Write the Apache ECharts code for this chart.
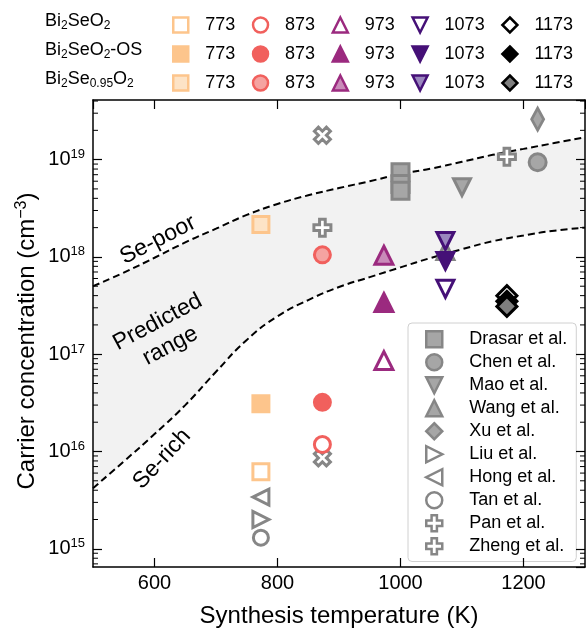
<!DOCTYPE html>
<html>
<head>
<meta charset="utf-8">
<script src="https://cdn.jsdelivr.net/npm/echarts@6/dist/echarts.min.js"></script>
<style>
html, body { margin: 0; padding: 0; background: #fff; }
#chart { width: 586px; height: 633px; }
</style>
</head>
<body>
<div id="chart"></div>
<script>
// this work: synthesis temperature (K) and carrier concentration (cm^-3)
const temps = [773, 873, 973, 1073, 1173];
const tempLabels = ['773', '873', '973', '1073', '1173'];
const nPristine = [6.2e15, 1.18e16, 8.6e16, 4.7e17, 4.0e17];
const nOS = [3.1e16, 3.2e16, 3.4e17, 9.1e17, 3.5e17];
const nSeDef = [2.15e18, 1.05e18, 1.04e18, 1.46e18, 3.1e17];

// predicted range boundaries
const boundT = [500, 550, 600, 650, 700, 750, 800, 850, 900, 950, 1000, 1050, 1100, 1150, 1200, 1250, 1300];
const sePoor = [5.0e17, 6.9e17, 9.8e17, 1.41e18, 1.95e18, 2.7e18, 3.5e18, 4.3e18, 5.1e18,
    6.0e18, 7.1e18, 8.1e18, 9.5e18, 1.12e19, 1.29e19, 1.48e19, 1.7e19];
const seRich = [4.2e15, 7.9e15, 1.51e16, 3.0e16, 6.6e16, 1.4e17, 2.45e17, 3.6e17, 4.9e17,
    6.2e17, 7.8e17, 9.8e17, 1.2e18, 1.45e18, 1.66e18, 1.86e18, 2.0e18];

// literature data
const litNames = ['Drasar et al.', 'Chen et al.', 'Mao et al.', 'Wang et al.', 'Xu et al.',
    'Liu et al.', 'Hong et al.', 'Tan et al.', 'Pan et al.', 'Zheng et al.'];
const litT = [[1000, 1000, 1000], [1223], [1100], [1073], [1223], [773], [773], [773], [873, 873], [873, 1173]];
const litN = [[7.4e18, 5.6e18, 4.8e18], [9.4e18], [5.2e18], [1.15e18], [2.6e19],
    [2.0e15], [3.4e15], [1.3e15], [1.78e19, 8.6e15], [2.0e18, 1.07e19]];

// axis ranges and minor tick mantissas
const xMin = 500, xMax = 1300;
const yMin = 6.5e14, yMax = 4.1e19;
const decades = [14, 15, 16, 17, 18, 19];
const minorMant = [2, 3, 4, 5, 6, 7, 8, 9];

const FONT = '"Liberation Sans", Arial, sans-serif';

const tempColors = ['#FDC58C', '#F1605D', '#9B2A7F', '#451077', '#000000'];
const tempLight = ['#FDE3C6', '#F5A3A1', '#C98BB9', '#9A87BE', '#7F7F7F'];

const SYM = {
    down: 'path://M0,0L2,0L1,2Z',
    left: 'path://M2,0L2,2L0,1Z',
    right: 'path://M0,0L0,2L2,1Z',
    plus: 'path://M1,0H2V1H3V2H2V3H1V2H0V1H1Z'
};
const tempSymbols = ['rect', 'circle', 'triangle', SYM.down, 'diamond'];
const tempSizes = [16, 16, 18, 17, 20];

const groups = [
    { key: 'Bi2SeO2', label: 'Bi{s|2}SeO{s|2}', values: nPristine, fill: i => '#ffffff', y: 25 },
    { key: 'Bi2SeO2-OS', label: 'Bi{s|2}SeO{s|2}-OS', values: nOS, fill: i => tempColors[i], y: 54 },
    { key: 'Bi2Se0.95O2', label: 'Bi{s|2}Se{s|0.95}O{s|2}', values: nSeDef, fill: i => tempLight[i], y: 83 }
];

const litStyle = [
    { symbol: 'rect', size: 17, fill: '#a6a6a6' },
    { symbol: 'circle', size: 17, fill: '#a6a6a6' },
    { symbol: SYM.down, size: 17, fill: '#a6a6a6' },
    { symbol: 'triangle', size: 17, fill: '#a6a6a6' },
    { symbol: 'diamond', size: [12, 22], fill: '#a6a6a6' },
    { symbol: SYM.right, size: 16, fill: '#ffffff' },
    { symbol: SYM.left, size: 16, fill: '#ffffff' },
    { symbol: 'circle', size: 15, fill: '#ffffff' },
    { symbol: SYM.plus, size: 17, fill: '#ffffff', rotate: 45 },
    { symbol: SYM.plus, size: 17, fill: '#ffffff' }
];
const GREY = '#868686';

const series = [];

// shaded predicted range: grey under the Se-poor limit, white again under the Se-rich limit
series.push({
    name: 'Se-poor', type: 'line', smooth: true, symbol: 'none', z: 1, silent: true,
    data: boundT.map((t, i) => [t, sePoor[i]]),
    lineStyle: { color: '#000', width: 2, type: [7, 4] },
    areaStyle: { color: '#f2f2f2', opacity: 1, origin: 'start' }
});
series.push({
    name: 'Se-rich', type: 'line', smooth: true, symbol: 'none', z: 1, silent: true,
    data: boundT.map((t, i) => [t, seRich[i]]),
    lineStyle: { color: '#000', width: 2, type: [7, 4] },
    areaStyle: { color: '#ffffff', opacity: 1, origin: 'start' }
});

// literature
litNames.forEach((name, k) => {
    const st = litStyle[k];
    series.push({
        name: name, type: 'scatter', z: 3,
        symbol: st.symbol, symbolSize: st.size, symbolRotate: st.rotate || 0,
        itemStyle: { color: st.fill, borderColor: GREY, borderWidth: 3, opacity: 1 },
        data: litT[k].map((t, j) => [t, litN[k][j]])
    });
});

// this work
groups.forEach(g => {
    temps.forEach((t, i) => {
        series.push({
            name: g.key + ' ' + tempLabels[i], type: 'scatter', z: 4,
            symbol: tempSymbols[i], symbolSize: tempSizes[i],
            itemStyle: { color: g.fill(i), borderColor: tempColors[i], borderWidth: 3, opacity: 1 },
            data: [[t, g.values[i]]]
        });
    });
});

// minor ticks of the log axes (left and right)
const minorVals = [];
decades.forEach(d => minorMant.forEach(m => {
    const v = m * Math.pow(10, d);
    if (v > yMin && v < yMax) minorVals.push([xMin, v]);
}));
series.push({
    type: 'custom', z: 10, silent: true,
    data: minorVals,
    renderItem: (params, api) => {
        const v = api.value(1);
        const a = api.coord([xMin, v]);
        const b = api.coord([xMax, v]);
        const st = { stroke: '#000', lineWidth: 1 };
        return {
            type: 'group',
            children: [
                { type: 'line', shape: { x1: a[0], y1: a[1], x2: a[0] + 5, y2: a[1] }, style: st },
                { type: 'line', shape: { x1: b[0], y1: b[1], x2: b[0] - 5, y2: b[1] }, style: st }
            ]
        };
    }
});

const legends = groups.map(g => ({
    left: 172, top: g.y - 9, orient: 'horizontal', padding: 0,
    itemWidth: 15, itemHeight: 15, itemGap: 16.5,
    selectedMode: false,
    textStyle: { fontSize: 18, fontFamily: FONT, color: '#000', padding: [0, 0, 0, 12] },
    formatter: name => name.split(' ')[1],
    data: temps.map((t, i) => ({
        name: g.key + ' ' + tempLabels[i],
        icon: tempSymbols[i],
        itemStyle: { color: g.fill(i), borderColor: tempColors[i], borderWidth: 2.5 }
    }))
}));
legends.push({
    left: 408, top: 323, orient: 'vertical',
    padding: [7, 9, 6, 17],
    itemWidth: 16, itemHeight: 16, itemGap: 4.5,
    selectedMode: false,
    backgroundColor: 'rgba(255,255,255,0.85)',
    borderColor: '#d0d0d0', borderWidth: 1, borderRadius: 4,
    textStyle: { fontSize: 18, fontFamily: FONT, color: '#000', padding: [0, 0, 0, 22] },
    data: litNames.map((name, k) => ({
        name: name,
        icon: litStyle[k].symbol,
        itemStyle: { color: litStyle[k].fill, borderColor: GREY, borderWidth: 2.5 }
    }))
});

const axisLineStyle = { show: true, onZero: false, lineStyle: { color: '#000', width: 1.5 } };
const tickStyle = { show: true, inside: true, length: 9, lineStyle: { color: '#000', width: 1.2 } };

const subRich = { s: { fontSize: 12, fontFamily: FONT, color: '#000', padding: [9, 0, 0, 0] } };

const graphics = groups.map(g => ({
    type: 'text', left: 45, top: g.y - 13,
    style: { text: g.label, fontSize: 18, fontFamily: FONT, fill: '#000', rich: subRich }
}));
graphics.push(
    { type: 'text', x: 27, y: 341, rotation: Math.PI / 2, z: 20,
      style: { text: 'Carrier concentration (cm{sup|\u22123})', fontSize: 24, fontFamily: FONT, fill: '#000',
               align: 'center', verticalAlign: 'middle',
               rich: { sup: { fontSize: 16, fontFamily: FONT, color: '#000', padding: [0, 0, 11, 0] } } } },
    { type: 'text', x: 158, y: 240, rotation: 27 * Math.PI / 180, z: 20,
      style: { text: 'Se-poor', fontSize: 23, fontFamily: FONT, fill: '#000', align: 'center', verticalAlign: 'middle' } },
    { type: 'text', x: 164, y: 334, rotation: 28 * Math.PI / 180, z: 20,
      style: { text: 'Predicted\nrange', fontSize: 23, lineHeight: 27, fontFamily: FONT, fill: '#000', align: 'center', verticalAlign: 'middle' } },
    { type: 'text', x: 162, y: 459, rotation: 47 * Math.PI / 180, z: 20,
      style: { text: 'Se-rich', fontSize: 23, fontFamily: FONT, fill: '#000', align: 'center', verticalAlign: 'middle' } }
);

const option = {
    animation: false,
    backgroundColor: '#fff',
    grid: { left: 93, right: 1, top: 100, bottom: 53 },
    legend: legends,
    xAxis: [{
        type: 'value', min: xMin, max: xMax, splitNumber: 4, position: 'bottom', z: 5,
        axisLine: axisLineStyle, axisTick: tickStyle, splitLine: { show: false },
        axisLabel: { fontSize: 20, fontFamily: FONT, color: '#000', margin: 6,
                     showMinLabel: false, showMaxLabel: false, formatter: v => String(v) },
        name: 'Synthesis temperature (K)', nameLocation: 'middle', nameGap: 37,
        nameTextStyle: { fontSize: 24, fontFamily: FONT, color: '#000' }
    }, {
        type: 'value', min: xMin, max: xMax, splitNumber: 4, position: 'top', z: 5,
        axisLine: axisLineStyle, axisTick: tickStyle, splitLine: { show: false },
        axisLabel: { show: false }
    }],
    yAxis: [{
        type: 'log', logBase: 10, min: yMin, max: yMax, position: 'left', z: 5,
        axisLine: axisLineStyle, axisTick: tickStyle, splitLine: { show: false },
        axisLabel: {
            fontSize: 20, fontFamily: FONT, color: '#000', margin: 8,
            showMinLabel: false, showMaxLabel: false,
            formatter: v => '10{sup|' + Math.round(Math.log10(v)) + '}',
            rich: { sup: { fontSize: 13, fontFamily: FONT, color: '#000', padding: [0, 0, 10, 0] } }
        }
    }, {
        type: 'log', logBase: 10, min: yMin, max: yMax, position: 'right', z: 5,
        axisLine: axisLineStyle, axisTick: tickStyle, splitLine: { show: false },
        axisLabel: { show: false }
    }],
    graphic: graphics,
    series: series
};

const chart = echarts.init(document.getElementById('chart'), null, { renderer: 'canvas' });
chart.setOption(option);
</script>
</body>
</html>
